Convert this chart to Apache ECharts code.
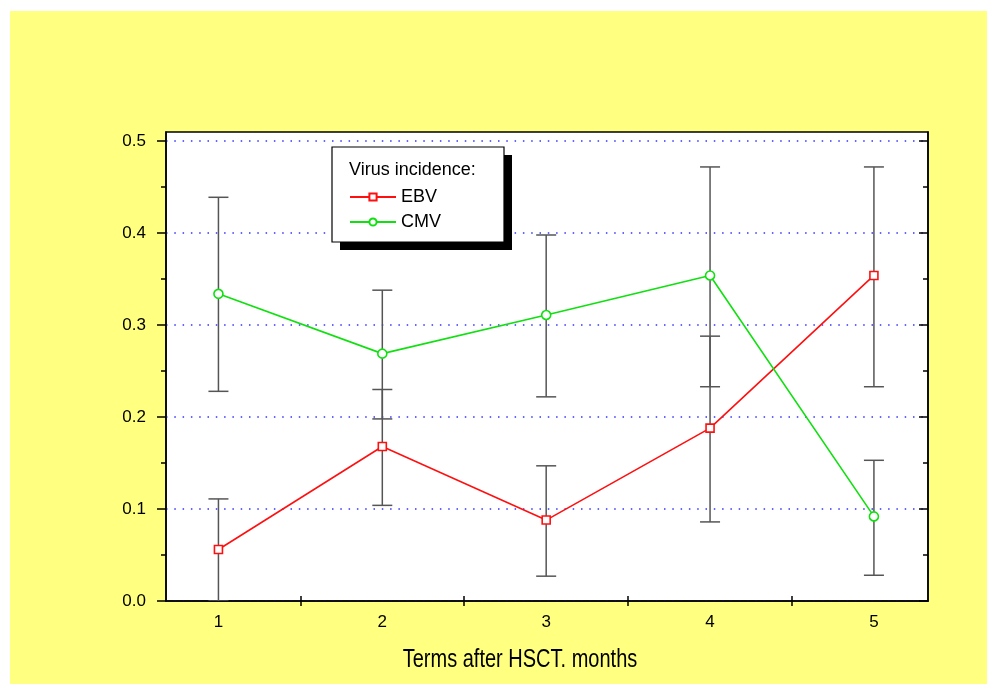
<!DOCTYPE html>
<html><head><meta charset="utf-8">
<script src="https://cdn.jsdelivr.net/npm/echarts@6/dist/echarts.min.js"></script>
<style>html,body{margin:0;padding:0;background:#fff}#c{width:987px;height:684px}</style>
</head><body><div id="c"></div>
<script>
const months = [1, 2, 3, 4, 5];
const ebv = [0.056, 0.168, 0.088, 0.188, 0.354];
const ebvLow = [0.000, 0.104, 0.027, 0.086, 0.233];
const ebvHigh = [0.111, 0.230, 0.147, 0.288, 0.472];
const cmv = [0.334, 0.269, 0.311, 0.354, 0.092];
const cmvLow = [0.228, 0.198, 0.222, 0.233, 0.028];
const cmvHigh = [0.439, 0.338, 0.398, 0.472, 0.153];
const yMajor = [0, 0.1, 0.2, 0.3, 0.4, 0.5];
const yMinor = [0.05, 0.15, 0.25, 0.35, 0.45];
const xTicks = [1.5, 2.5, 3.5, 4.5];

const FONT = "'Liberation Sans', Arial, sans-serif";
const RED = '#ff1010';
const GREEN = '#10e010';

function errItem(params, api) {
  const x = api.value(0), lo = api.value(1), hi = api.value(2);
  const a = api.coord([x, lo]), b = api.coord([x, hi]);
  const hw = 10;
  const st = { stroke: '#555555', lineWidth: 1.5 };
  return { type: 'group', children: [
    { type: 'line', shape: { x1: a[0], y1: a[1], x2: b[0], y2: b[1] }, style: st },
    { type: 'line', shape: { x1: a[0] - hw, y1: a[1], x2: a[0] + hw, y2: a[1] }, style: st },
    { type: 'line', shape: { x1: b[0] - hw, y1: b[1], x2: b[0] + hw, y2: b[1] }, style: st }
  ]};
}

const yBase = { type: 'value', min: 0, max: 0.51 };
const chart = echarts.init(document.getElementById('c'));
chart.setOption({
  backgroundColor: '#ffffff',
  animation: false,
  grid: { left: 166, top: 132, right: 59, bottom: 83, show: true, backgroundColor: '#ffffff', borderColor: '#000', borderWidth: 1.5 },
  xAxis: [
    { type: 'value', min: 0.68, max: 5.33, position: 'bottom',
      axisLine: { show: true, lineStyle: { color: '#000', width: 1.5 } },
      axisTick: { show: true, customValues: xTicks, length: 5, inside: false, lineStyle: { color: '#000', width: 1.5 } },
      axisLabel: { customValues: months, margin: 13, fontSize: 17, color: '#000', fontFamily: FONT },
      splitLine: { show: false } },
    { type: 'value', min: 0.68, max: 5.33, position: 'bottom',
      axisLine: { show: false },
      axisTick: { show: true, customValues: xTicks, length: 5, inside: true, lineStyle: { color: '#000', width: 1.5 } },
      axisLabel: { show: false }, splitLine: { show: false } }
  ],
  yAxis: [
    Object.assign({}, yBase, { position: 'left', interval: 0.1,
      axisLine: { show: true, lineStyle: { color: '#000', width: 1.5 } },
      axisTick: { show: true, customValues: yMajor, length: 9, lineStyle: { color: '#000', width: 1.5 } },
      axisLabel: { customValues: yMajor, margin: 20, fontSize: 17, color: '#000', fontFamily: FONT, formatter: v => v.toFixed(1) },
      splitLine: { show: true, lineStyle: { color: '#3333ff', width: 1.5, type: [1.5, 6.8] } } }),
    Object.assign({}, yBase, { position: 'left',
      axisLine: { show: false },
      axisTick: { show: true, customValues: yMinor, length: 5, lineStyle: { color: '#000', width: 1.5 } },
      axisLabel: { show: false }, splitLine: { show: false } }),
    Object.assign({}, yBase, { position: 'right',
      axisLine: { show: true, lineStyle: { color: '#000', width: 1.5 } },
      axisTick: { show: true, inside: true, customValues: yMajor, length: 9, lineStyle: { color: '#000', width: 1.5 } },
      axisLabel: { show: false }, splitLine: { show: false } }),
    Object.assign({}, yBase, { position: 'right',
      axisLine: { show: false },
      axisTick: { show: true, inside: true, customValues: yMinor, length: 5, lineStyle: { color: '#000', width: 1.5 } },
      axisLabel: { show: false }, splitLine: { show: false } })
  ],
  legend: {
    data: ['EBV', 'CMV'], orient: 'vertical', left: 344, top: 183,
    itemWidth: 46, itemHeight: 9, itemGap: 7, z: 20,
    textStyle: { fontSize: 18, color: '#000', fontFamily: FONT },
    selectedMode: false
  },
  graphic: [
    { type: 'rect', z: -10, silent: true, shape: { x: 10, y: 11, width: 977, height: 673 }, style: { fill: '#ffff80' } },
    { type: 'rect', z: 10, silent: true, shape: { x: 340, y: 155, width: 172, height: 95 }, style: { fill: '#000' } },
    { type: 'rect', z: 11, silent: true, shape: { x: 332, y: 147, width: 172, height: 95 }, style: { fill: '#fff', stroke: '#000', lineWidth: 1.2 } },
    { type: 'text', z: 12, silent: true, x: 349, y: 170, style: { text: 'Virus incidence:', font: "18px " + FONT, fill: '#000', textVerticalAlign: 'middle', verticalAlign: 'middle' } },
    { type: 'text', z: 12, silent: true, x: 520, y: 660, scaleX: 0.8, style: { text: 'Terms after HSCT. months', font: "25px " + FONT, fill: '#000', align: 'center', verticalAlign: 'middle', textAlign: 'center', textVerticalAlign: 'middle' } }
  ],
  series: [
    { name: 'EBV error', type: 'custom', renderItem: errItem, clip: true, encode: { x: 0, y: [1, 2] },
      data: months.map((m, i) => [m, ebvLow[i], ebvHigh[i]]) },
    { name: 'CMV error', type: 'custom', renderItem: errItem, clip: true, encode: { x: 0, y: [1, 2] },
      data: months.map((m, i) => [m, cmvLow[i], cmvHigh[i]]) },
    { name: 'EBV', type: 'line', data: months.map((m, i) => [m, ebv[i]]),
      symbol: 'rect', symbolSize: 8, showAllSymbol: true,
      lineStyle: { color: RED, width: 1.6 },
      itemStyle: { color: '#fff', borderColor: RED, borderWidth: 1.6 } },
    { name: 'CMV', type: 'line', data: months.map((m, i) => [m, cmv[i]]),
      symbol: 'circle', symbolSize: 9, showAllSymbol: true,
      lineStyle: { color: GREEN, width: 1.6 },
      itemStyle: { color: '#fff', borderColor: GREEN, borderWidth: 1.6 } }
  ]
});
</script></body></html>
